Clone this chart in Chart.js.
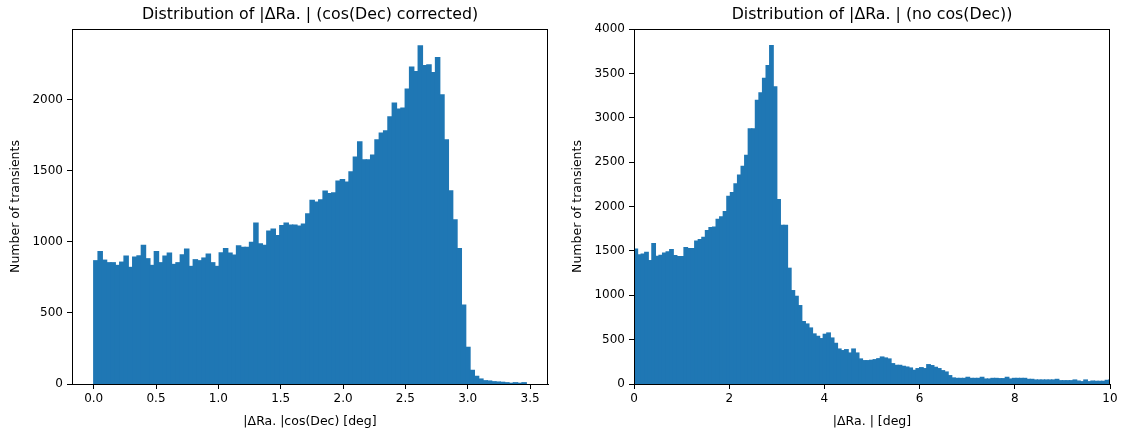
<!DOCTYPE html>
<html>
<head>
<meta charset="utf-8">
<script src="https://cdn.jsdelivr.net/npm/chart.js@4/dist/chart.umd.min.js"></script>
<style>
  html, body { margin: 0; padding: 0; background: #fff; }
  #wrap { position: relative; width: 1124px; height: 431px; }
  canvas { position: absolute; top: 0; }
  #c1 { left: 0; }
  #c2 { left: 562px; }
</style>
</head>
<body>
<div id="wrap">
  <canvas id="c1" width="562" height="431"></canvas>
  <canvas id="c2" width="562" height="431"></canvas>
</div>
<script>
// ---------- Left histogram: |ΔRa.|cos(Dec) ----------
const leftTitle = "Distribution of |ΔRa. | (cos(Dec) corrected)";
const leftXLabel = "|ΔRa. |cos(Dec) [deg]";
const leftBinStart = 0.0;
const leftBinWidth = 0.0347;
const leftCounts = [
  867, 932, 871, 853, 853, 834, 857, 900, 820, 893,
  902, 975, 881, 834, 932, 853, 900, 921, 841, 853,
  909, 949, 827, 874, 867, 886, 914, 853, 827, 923,
  953, 921, 907, 972, 961, 961, 996, 1132, 986, 975,
  1076, 1090, 1043, 1115, 1132, 1118, 1118, 1111, 1125, 1197,
  1291, 1279, 1296, 1357, 1340, 1345, 1427, 1438, 1420, 1492,
  1596, 1703, 1577, 1577, 1610, 1717, 1764, 1781, 1879, 1975,
  1933, 1940, 2074, 2229, 2198, 2378, 2240, 2245, 2190, 2296,
  2034, 1717, 1359, 1155, 953, 555, 258, 96, 54, 35,
  23, 21, 16, 14, 12, 9, 5, 9, 5, 9
];
const leftXTicks = [0, 0.5, 1.0, 1.5, 2.0, 2.5, 3.0, 3.5];
const leftYTicks = [0, 500, 1000, 1500, 2000];
const leftXRange = [-0.174, 3.644];
const leftYMax = 2497;

// ---------- Right histogram: |ΔRa.| ----------
const rightTitle = "Distribution of |ΔRa. | (no cos(Dec))";
const rightXLabel = "|ΔRa. | [deg]";
const rightBinStart = 0.0;
const rightBinWidth = 0.075;
const rightCounts = [
  1521, 1454, 1465, 1484, 1390, 1581, 1438, 1450, 1476, 1488,
  1514, 1446, 1435, 1435, 1536, 1525, 1525, 1611, 1627, 1652,
  1728, 1762, 1769, 1855, 1882, 1942, 2113, 2156, 2256, 2353,
  2452, 2577, 2874, 2874, 3197, 3280, 3445, 3588, 3813, 3347,
  2078, 1788, 1788, 1304, 1052, 988, 883, 703, 676, 631,
  564, 537, 511, 560, 575, 518, 458, 394, 376, 387,
  349, 394, 349, 282, 263, 263, 267, 274, 285, 304,
  293, 282, 229, 210, 210, 199, 191, 180, 154, 173,
  184, 173, 218, 207, 188, 173, 150, 135, 94, 68,
  63, 63, 63, 75, 63, 63, 63, 75, 56, 56,
  63, 63, 60, 60, 75, 56, 63, 63, 63, 63,
  52, 52, 45, 45, 45, 45, 45, 45, 52, 37,
  37, 37, 37, 45, 33, 26, 45, 26, 33, 30,
  30, 30, 41, 45
];
const rightXTicks = [0, 2, 4, 6, 8, 10];
const rightYTicks = [0, 500, 1000, 1500, 2000, 2500, 3000, 3500, 4000];
const rightXRange = [0, 10];
const rightYMax = 4000;

const yLabel = "Number of transients";
const barColor = "#1f77b4";
const FONT = "'DejaVu Sans', sans-serif";
const TICK_SIZE = 12;
const LABEL_SIZE = 12.5;
const TITLE_SIZE = 15.8;

function toPoints(counts, start, width) {
  return counts.map((c, i) => ({ x: start + (i + 0.5) * width, y: c }));
}

const framePlugin = {
  id: 'frame',
  afterDraw(chart, args, opts) {
    const { ctx, chartArea: a } = chart;
    ctx.save();
    ctx.strokeStyle = '#000';
    ctx.lineWidth = 1;
    ctx.strokeRect(Math.round(a.left) + 0.5, Math.round(a.top) + 0.5,
                   Math.round(a.right - a.left) - 1, Math.round(a.bottom - a.top));
    ctx.fillStyle = '#000';
    ctx.font = TITLE_SIZE + "px " + FONT;
    ctx.textAlign = 'center';
    ctx.textBaseline = 'middle';
    ctx.fillText(opts.text, (a.left + a.right) / 2, 15);
    ctx.restore();
  }
};

function makeChart(id, title, xLabel, counts, start, width, xTicks, yTicks, xRange, yMax, fmt) {
  new Chart(document.getElementById(id), {
    type: 'bar',
    data: {
      datasets: [{
        data: toPoints(counts, start, width),
        backgroundColor: barColor,
        borderWidth: 0,
        inflateAmount: 0.6,
        barPercentage: 1.0,
        categoryPercentage: 1.0,
        grouped: false
      }]
    },
    options: {
      responsive: false,
      animation: false,
      devicePixelRatio: 1,
      events: [],
      layout: { padding: { top: 29, right: 14, left: 0, bottom: 0 } },
      plugins: {
        legend: { display: false },
        tooltip: { enabled: false },
        frame: { text: title }
      },
      scales: {
        x: {
          type: 'linear',
          offset: false,
          min: xRange[0],
          max: xRange[1],
          afterBuildTicks: s => { s.ticks = xTicks.map(v => ({ value: v })); },
          afterFit: s => { s.height = 47; },
          ticks: {
            color: '#000',
            font: { family: FONT, size: TICK_SIZE },
            padding: 3,
            maxRotation: 0,
            autoSkip: false,
            callback: v => fmt(v)
          },
          grid: { display: true, offset: false, drawOnChartArea: false, drawTicks: true, tickLength: 5, color: '#000' },
          border: { display: true, color: '#000' },
          title: { display: true, text: xLabel, color: '#000', font: { family: FONT, size: LABEL_SIZE }, padding: { top: 0, bottom: 2 } }
        },
        y: {
          type: 'linear',
          min: 0,
          max: yMax,
          afterBuildTicks: s => { s.ticks = yTicks.map(v => ({ value: v })); },
          afterFit: s => { s.width = 72; },
          ticks: {
            color: '#000',
            font: { family: FONT, size: TICK_SIZE },
            padding: 4,
            autoSkip: false,
            callback: v => String(v)
          },
          grid: { display: true, offset: false, drawOnChartArea: false, drawTicks: true, tickLength: 5, color: '#000' },
          border: { display: true, color: '#000' },
          title: { display: true, text: yLabel, color: '#000', font: { family: FONT, size: LABEL_SIZE }, padding: { top: 8.5, bottom: 0 } }
        }
      }
    },
    plugins: [framePlugin]
  });
}

makeChart('c1', leftTitle, leftXLabel, leftCounts, leftBinStart, leftBinWidth,
          leftXTicks, leftYTicks, leftXRange, leftYMax, v => v.toFixed(1));
makeChart('c2', rightTitle, rightXLabel, rightCounts, rightBinStart, rightBinWidth,
          rightXTicks, rightYTicks, rightXRange, rightYMax, v => String(v));
</script>
</body>
</html>
